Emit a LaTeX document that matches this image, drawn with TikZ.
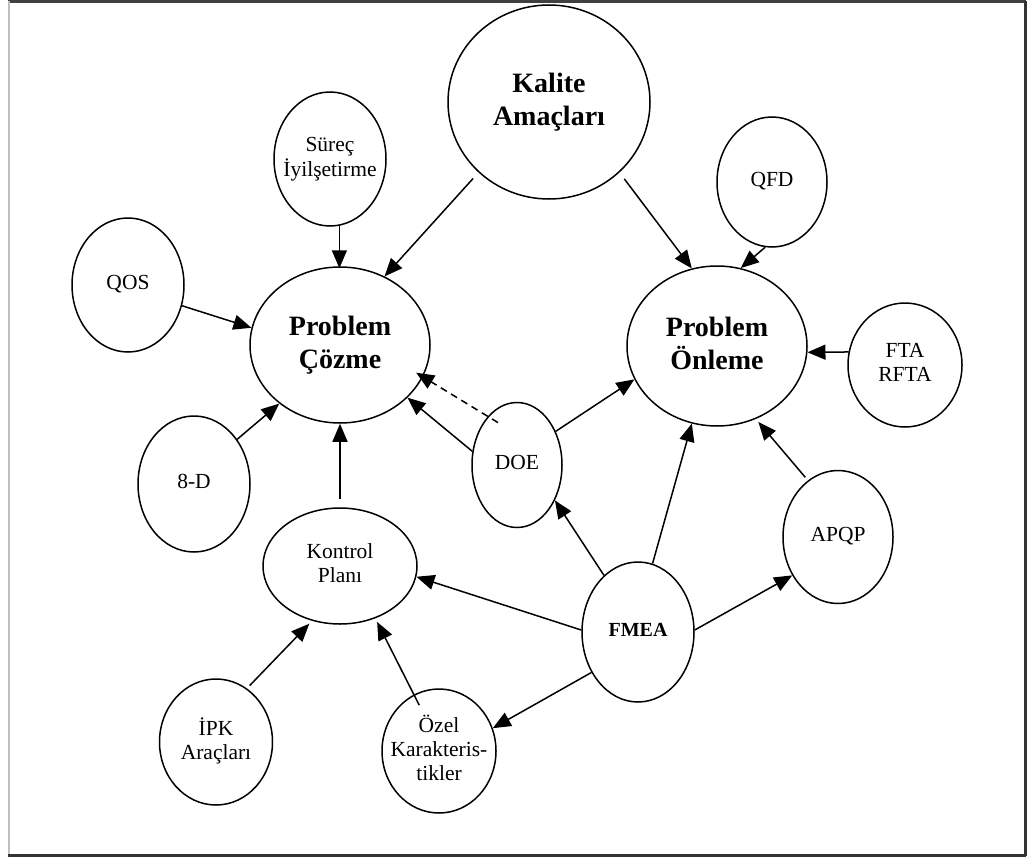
\documentclass[tikz,border=0pt]{standalone}
\usepackage{fontspec}
\setmainfont{Liberation Serif}
\usetikzlibrary{arrows.meta,shapes.geometric}
\newcommand{\bubtext}[2][0pt]{\raisebox{#1}{\makebox[0pt]{\begin{tabular}{@{}c@{}}#2\end{tabular}}}}
\tikzset{
  bub/.style 2 args={draw, ellipse, line width=1.5pt, inner sep=0pt,
    minimum width=#1pt, minimum height=#2pt},
  small/.style={font=\fontsize{21.5}{24}\selectfont},
  big/.style={font=\fontsize{28}{33}\selectfont\bfseries},
  arr/.style={line width=1.5pt, -{Triangle[length=18pt,width=15pt]}},
  dsh/.style={arr, dash pattern=on 7pt off 5pt},
}
\begin{document}
\begin{tikzpicture}[x=1pt,y=1pt]
\useasboundingbox (0,0) rectangle (1028,-859);
% frame
\draw[line width=2.5pt, black!75] (8,-1.5) -- (1026,-1.5);
\draw[line width=2pt, black!25] (8.5,-1.5) -- (8.5,-856);
\draw[line width=3pt, black!80] (1025.5,-1.5) -- (1025.5,-856);
\draw[line width=3pt, black!80] (8,-855.5) -- (1026,-855.5);
% nodes
\node[bub={202}{194}, big] (kal) at (549,-102) {\bubtext[3pt]{Kalite\\Amaçları}};
\node[bub={112}{134}, small] (sur) at (330,-159) {\bubtext[3pt]{Süreç\\İyilşetirme}};
\node[bub={112}{134}, small] (qos) at (128,-285) {\bubtext{QOS}};
\node[bub={180}{156}, big] (coz) at (340,-345) {\bubtext[2pt]{Problem\\Çözme}};
\node[bub={112}{136}, small] (d8) at (194,-484) {\bubtext{8-D}};
\node[bub={154}{116}, small] (kon) at (340,-566) {\bubtext[3pt]{Kontrol\\Planı}};
\node[bub={90}{125}, small] (doe) at (517,-465) {\bubtext[6pt]{DOE}};
\node[bub={180}{160}, big] (pon) at (717,-346) {\bubtext[2pt]{Problem\\Önleme}};
\node[bub={110}{130}, small] (qfd) at (772,-182) {\bubtext{QFD}};
\node[bub={114}{124}, small] (fta) at (905,-365) {\bubtext[3pt]{FTA\\RFTA}};
\node[bub={110}{133}, small] (apq) at (838,-537) {\bubtext[5pt]{APQP}};
\node[bub={112}{140}, font=\fontsize{20}{24}\selectfont\bfseries] (fme) at (638,-632) {\bubtext{FMEA}};
\node[bub={113}{126}, small] (ipk) at (216,-742) {\bubtext[10pt]{İPK\\Araçları}};
\node[bub={114}{124}, small] (oze) at (439,-751) {\bubtext[3pt]{Özel\\Karakteris-\\tikler}};
% connectors
\draw[arr, shorten <=8pt] (kal.225) -- (coz.57);
\draw[arr, shorten <=8pt] (kal.315) -- (pon.108);
\draw[arr, shorten >=-2pt] (sur.-82) -- (sur.-82 |- coz.north);
\draw[arr] (qos.-21) -- (coz.169);
\draw[arr] (d8.46) -- (coz.224);
\draw[arr, shorten <=8pt] (kon.north) -- (coz.south);
\draw[dsh, shorten <=-12pt, shorten >=-8pt] (doe.121) -- (coz.-21);
\draw[arr] (doe.163) -- (coz.-38);
\draw[arr] (doe.41) -- (pon.202);
\draw[arr] (qfd.264) -- (pon.73);
\draw[arr] (fta.167) -- (pon.-4);
\draw[arr, shorten <=4pt, shorten >=4pt] (apq.118) -- (pon.-62);
\draw[arr] (fme.121) -- (doe.-43);
\draw[arr] (fme.78) -- (pon.252);
\draw[arr] (fme.178) -- (kon.-8);
\draw[arr] (fme.2) -- (apq.220);
\draw[arr] (fme.221) -- (oze.23);
\draw[arr, shorten <=4pt, shorten >=4pt] (ipk.60) -- (kon.243);
\draw[arr, shorten <=-12pt, shorten >=4pt] (oze.114) -- (kon.-56);
\end{tikzpicture}
\end{document}
